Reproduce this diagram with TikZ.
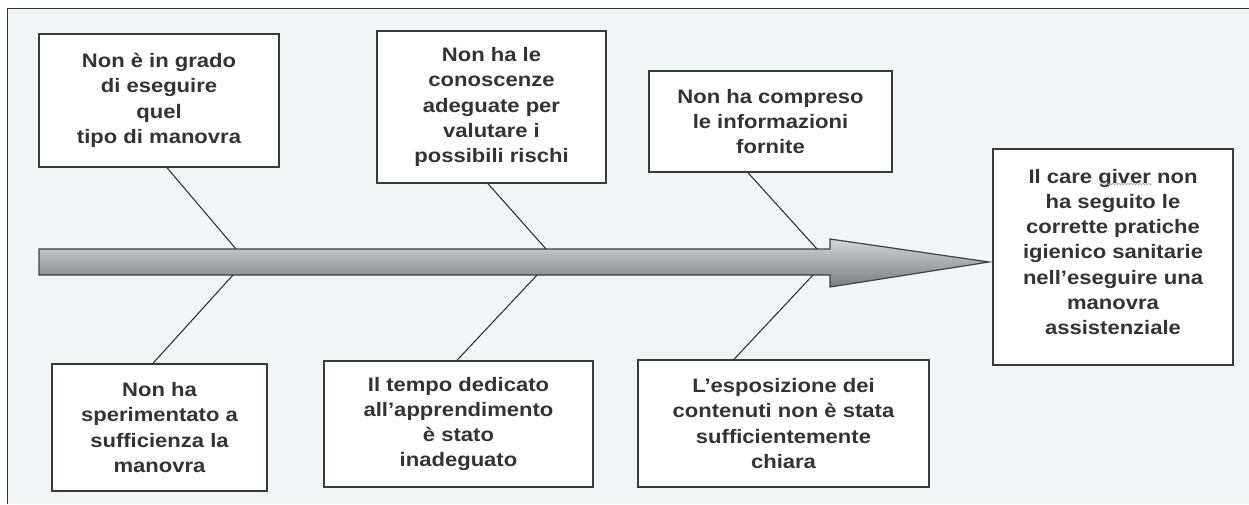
\documentclass[tikz,border=0pt]{standalone}
\usepackage{fontspec}
\setmainfont{Liberation Sans}[FakeStretch=1.13]
\usetikzlibrary{calc,decorations.pathmorphing}
\definecolor{bgc}{HTML}{F2F5F5}
\definecolor{bordc}{HTML}{3A3A3A}
\definecolor{txtc}{HTML}{333333}
\definecolor{arrtop}{HTML}{D4D5D8}
\definecolor{arrbot}{HTML}{7C7D80}
\begin{document}
\begin{tikzpicture}[x=1pt,y=-1pt,
  boxshape/.style={draw=bordc,line width=1.4pt,fill=white,inner sep=0pt},
  causetext/.style={inner sep=0pt,align=center,text=txtc,
    font=\fontsize{19.5}{25.3}\selectfont\bfseries},
  cause/.style={boxshape,causetext},
  bone/.style={draw=black!85,line width=1pt}]
\useasboundingbox (0,0) rectangle (1249,504);
\fill[white] (0,0) rectangle (1249,504);
\fill[bgc] (7,8) rectangle (1249,504);
\draw[black!80,line width=1pt] (7,504) -- (7,8) -- (1249,8);
% arrow
\shade[top color=arrtop,bottom color=arrbot,draw=black!75,line width=1.2pt,line join=miter]
  (39,249) -- (830,249) -- (830,239) -- (989,262) -- (830,287) -- (830,275) -- (39,275) -- cycle;
\coordinate (s1) at (236,249);
\coordinate (s2) at (546,249);
\coordinate (s3) at (817,249);
\coordinate (s4) at (233,275);
\coordinate (s5) at (537,275);
\coordinate (s6) at (813,275);
% boxes
\node[cause,minimum width=240pt,minimum height=133pt] (b1) at (159,100.5)
  {Non è in grado\\di eseguire\\quel\\tipo di manovra};
\node[cause,minimum width=229pt,minimum height=152pt] (b2) at (491.5,107)
  {Non ha le\\conoscenze\\adeguate per\\valutare i\\possibili rischi};
\node[cause,minimum width=243pt,minimum height=101pt] (b3) at (770.5,121.5)
  {Non ha compreso\\le informazioni\\fornite};
\node[cause,minimum width=215pt,minimum height=127pt] (b4) at (159.5,427.5)
  {Non ha\\sperimentato a\\sufficienza la\\manovra};
\node[cause,minimum width=269pt,minimum height=126pt] (b5) at (458.5,424)
  {Il tempo dedicato\\all’apprendimento\\è stato\\inadeguato};
\node[cause,minimum width=291pt,minimum height=127pt] (b6) at (783.5,423.5)
  {L’esposizione dei\\contenuti non è stata\\sufficientemente\\chiara};
\node[boxshape,minimum width=240pt,minimum height=216pt] (b7) at (1113,257) {};
\node[causetext] (b7t) at (1113,252)
  {Il care giver non\\ha seguito le\\corrette pratiche\\igienico sanitarie\\nell’eseguire una\\manovra\\assistenziale};
% wavy spell-check underline
\draw[blue!30!gray!60,line width=0.6pt,decorate,decoration={snake,amplitude=0.8pt,segment length=3pt}]
  (1100,184) -- (1152,184);
% bones
\draw[bone] ([xshift=8pt]b1.south) -- (s1);
\draw[bone] ([xshift=-3.5pt]b2.south) -- (s2);
\draw[bone] ([xshift=-22.5pt]b3.south) -- (s3);
\draw[bone] ([xshift=-6.5pt]b4.north) -- (s4);
\draw[bone] ([xshift=-1.5pt]b5.north) -- (s5);
\draw[bone] ([xshift=-49.5pt]b6.north) -- (s6);
\end{tikzpicture}
\end{document}
